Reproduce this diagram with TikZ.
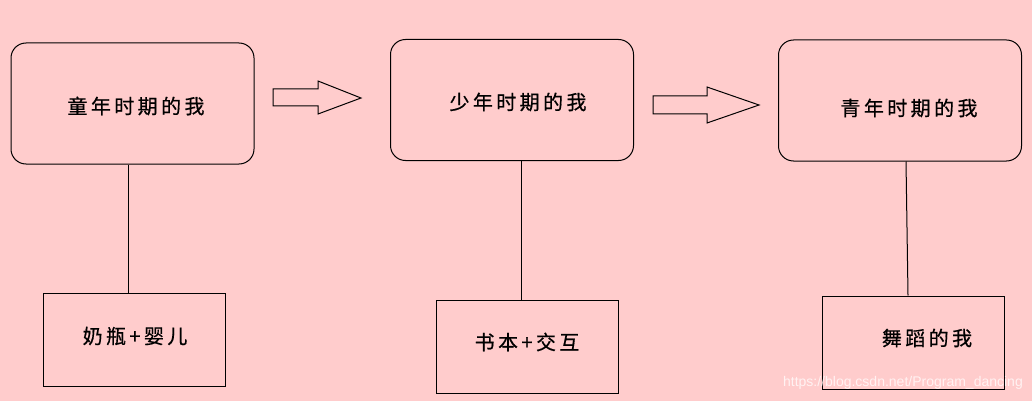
\documentclass[tikz,border=0pt]{standalone}
\usepackage{fontspec}
\setmainfont{Liberation Sans}
\newfontfamily\cjk[LetterSpace=17,FakeBold=0.6]{Noto Sans CJK SC}
\newfontfamily\wm{Liberation Sans}
\definecolor{bgpink}{HTML}{FFCCCC}
\begin{document}
\begin{tikzpicture}[x=1pt,y=-1pt,
  stage/.style={draw=black,line width=1pt,rounded corners=15pt,inner sep=0pt,
    minimum width=243pt,minimum height=121pt},
  thing/.style={draw=black,line width=1pt,inner sep=0pt,
    minimum width=182pt,minimum height=93pt},
  txt/.style={font=\cjk\fontsize{20}{22}\selectfont,inner sep=0pt,text=black},
  link/.style={draw=black,line width=1pt},
  bigarrow/.style={draw=black,line width=1pt,line join=miter}]
\useasboundingbox (0,0) rectangle (1032,401);
\fill[bgpink] (0,0) rectangle (1032,401);
% stage boxes
\node[stage] (b1) at (132.5,103.5) {};
\node[stage] (b2) at (512,100) {};
\node[stage] (b3) at (900,100.5) {};
\node[txt] (t1) at (136,106) {童年时期的我};
\node[txt] (t2) at (518,102) {少年时期的我};
\node[txt] (t3) at (909,108) {青年时期的我};
% thing boxes
\node[thing] (c1) at (134,339.5) {};
\node[thing] (c2) at (527,346.5) {};
\node[thing] (c3) at (913,342.5) {};
\node[txt] (u1) at (135,336) {奶瓶+婴儿};
\node[txt] (u2) at (527,342) {书本+交互};
\node[txt] (u3) at (927,338) {舞蹈的我};
% connectors
\coordinate (x1) at (128,0);
\coordinate (x2) at (521,0);
\coordinate (x3a) at (906,0);
\coordinate (x3b) at (908,0);
\draw[link] (b1.south -| x1) -- (c1.north -| x1);
\draw[link] (b2.south -| x2) -- (c2.north -| x2);
\draw[link] (b3.south -| x3a) -- (c3.north -| x3b);
% block arrows
\draw[bigarrow] (273,89) -- (318,89) -- (318,81) -- (361,98) -- (318,114) -- (318,106) -- (273,106) -- cycle;
\draw[bigarrow] (653,96) -- (707,96) -- (707,87) -- (759,105) -- (707,123) -- (707,114) -- (653,114) -- cycle;
% watermark
\node[font=\wm\fontsize{14}{16}\selectfont,text=white,opacity=0.75,anchor=east,inner sep=0pt] (wmk) at (1023,383) {https://blog.csdn.net/Program\_dancing};
\end{tikzpicture}
\end{document}
